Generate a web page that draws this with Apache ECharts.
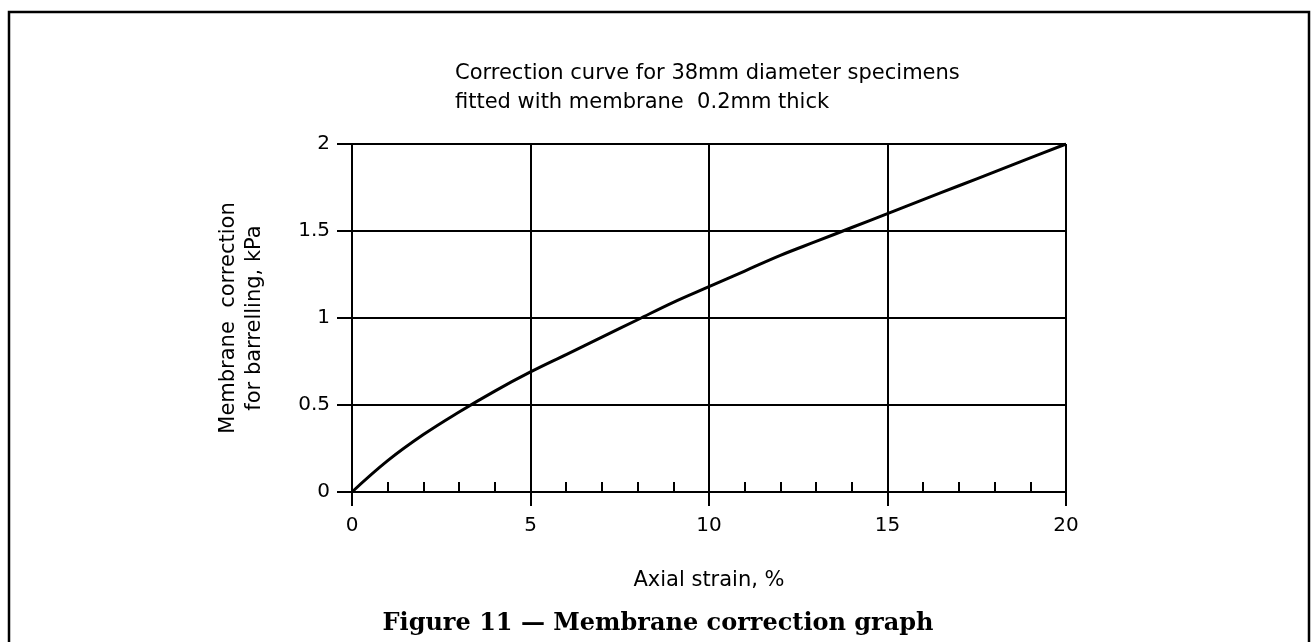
<!DOCTYPE html>
<html>
<head>
<meta charset="utf-8">
<script src="https://cdn.jsdelivr.net/npm/echarts@6/dist/echarts.min.js"></script>
<style>
html,body{margin:0;padding:0;background:#fff;}
#c{width:1316px;height:642px;}
</style>
</head>
<body>
<div id="c"></div>
<script>
// Data
var strainPct = [0,1,2,3,4,5,6,7,8,9,10,11,12,13,14,15,16,17,18,19,20];
var correctionKPa = [0,0.18,0.33,0.46,0.58,0.69,0.79,0.89,0.99,1.09,1.18,1.27,1.36,1.44,1.52,1.60,1.68,1.76,1.84,1.92,2.0];
var titleLines = ['Correction curve for 38mm diameter specimens', 'fitted with membrane  0.2mm thick'];
var yAxisName = 'Membrane  correction\nfor barrelling, kPa';
var xAxisName = 'Axial strain, %';
var caption = 'Figure 11 \u2014 Membrane correction graph';

var techFont = '"DejaVu Sans", "Noto Sans", sans-serif';
var chart = echarts.init(document.getElementById('c'), null, {renderer: 'canvas'});
var pts = strainPct.map(function (x, i) { return [x, correctionKPa[i]]; });

chart.setOption({
  backgroundColor: '#fff',
  animation: false,
  title: [
    {
      text: titleLines.join('\n'),
      left: 450, top: 54,
      textStyle: {fontFamily: techFont, fontSize: 21, fontWeight: 'normal', color: '#000', lineHeight: 29}
    },
    {
      text: caption,
      left: 'center', top: 607,
      textStyle: {fontFamily: '"DejaVu Serif", "Liberation Serif", serif', fontSize: 24, fontWeight: 'bold', color: '#000'}
    }
  ],
  graphic: [{
    type: 'rect', silent: true, z: -1,
    shape: {x: 9, y: 12, width: 1300, height: 700},
    style: {fill: 'none', stroke: '#000', lineWidth: 2.5}
  }],
  grid: {left: 352, right: 250, top: 144, bottom: 150, containLabel: false},
  xAxis: [
    {
      type: 'value', min: 0, max: 20, interval: 5,
      name: xAxisName, nameLocation: 'middle', nameGap: 78,
      nameTextStyle: {fontFamily: techFont, fontSize: 21, color: '#000'},
      axisLine: {show: true, onZero: false, lineStyle: {color: '#000', width: 2}},
      axisTick: {show: true, inside: false, length: 14, lineStyle: {color: '#000', width: 2}},
      axisLabel: {fontFamily: techFont, fontSize: 20, color: '#000', margin: 24},
      splitLine: {show: true, lineStyle: {color: '#000', width: 2}}
    },
    {
      type: 'value', min: 0, max: 20, interval: 1, position: 'bottom',
      axisLine: {show: false},
      axisTick: {show: true, inside: true, length: 10, lineStyle: {color: '#000', width: 2}},
      axisLabel: {show: false},
      splitLine: {show: false}
    }
  ],
  yAxis: {
    type: 'value', min: 0, max: 2, interval: 0.5,
    name: yAxisName, nameLocation: 'middle', nameGap: 84, nameRotate: 90,
    nameTextStyle: {fontFamily: techFont, fontSize: 21, color: '#000', lineHeight: 26, align: 'center'},
    axisLine: {show: true, onZero: false, lineStyle: {color: '#000', width: 2}},
    axisTick: {show: true, inside: false, length: 15, lineStyle: {color: '#000', width: 2}},
    axisLabel: {fontFamily: techFont, fontSize: 20, color: '#000', margin: 22},
    splitLine: {show: true, lineStyle: {color: '#000', width: 2}}
  },
  series: [{
    type: 'line', xAxisIndex: 0, data: pts, smooth: 0.4, symbol: 'none',
    lineStyle: {color: '#000', width: 3}
  }]
});
</script>
</body>
</html>
